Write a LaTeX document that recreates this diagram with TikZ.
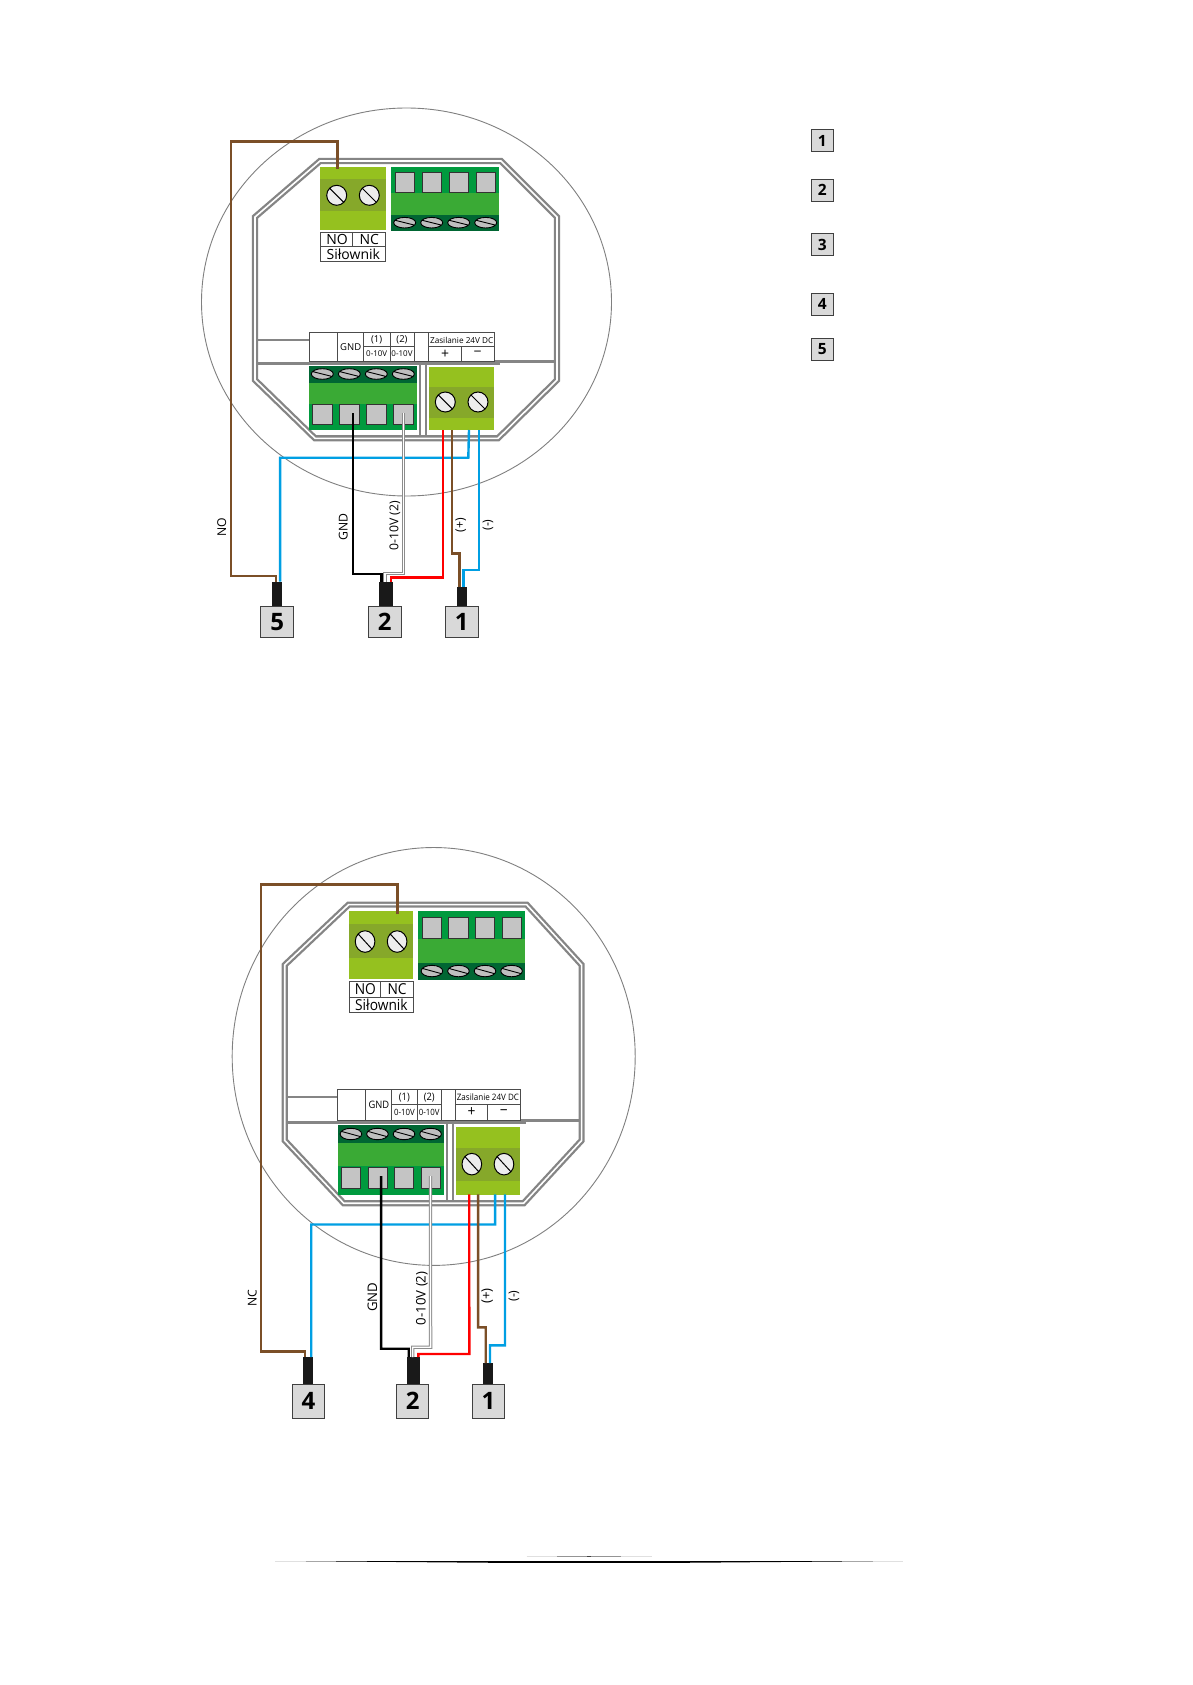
\documentclass[tikz,border=0pt]{standalone}
\usepackage{fontspec}
\setmainfont{Open Sans}
\definecolor{limeA}{HTML}{95C11F}
\definecolor{limeB}{HTML}{86A82A}
\definecolor{greenA}{HTML}{009A3E}
\definecolor{greenB}{HTML}{3AAA35}
\definecolor{greenC}{HTML}{006633}
\definecolor{wblue}{HTML}{009FE3}
\definecolor{wbrown}{HTML}{7B4F27}
\definecolor{wred}{HTML}{FF0000}
\tikzset{
  frame/.style={draw=black!48,line width=2.3,double=white,double distance=1.6,line join=miter},
  rib/.style={draw=black!48,line width=2.2},
  head/.style={draw=black,line width=1,fill=black!7},
  flat/.style={draw=black,line width=.9,fill=black!25},
  port/.style={draw=black!80,line width=1,fill=black!23},
  cell/.style={draw=black!70,line width=.8},
  tag/.style={inner sep=0,transform shape},
  wire/.style={line width=2.4},
  wwhite/.style={draw=black!45,line width=1,double=white,double distance=1.3},
  wiretext/.style={inner sep=0,rotate=90,font=\fontsize{12.2}{13}\selectfont},
  plug/.style={fill=black!90,inner sep=0,minimum width=#1},
  num/.style={draw=black!75,line width=1,fill=black!15,inner sep=0,minimum width=32.5,minimum height=31,
    font=\fontsize{24}{24}\selectfont\bfseries},
  keynum/.style={num,minimum width=22,minimum height=22,font=\fontsize{15.5}{16}\selectfont\bfseries},
  pics/board/.style={code={
    \draw[black!50,line width=.9] (406.5,302) circle[x radius=205,y radius=194];
    \draw[frame] (320,161) -- (501,161) -- (557,217) -- (557,380) -- (498,438.3)
      -- (315,438.3) -- (255,380) -- (255,217) -- cycle;
    \draw[rib] (257,340) -- (309,340);
    \draw[rib,line width=2.5] (257,363.4) -- (500,363.4);
    \draw[rib,line width=3] (495,361.5) -- (555,361.5);
    \draw[rib] (419.7,363.5) -- (419.7,437);
    \draw[rib] (426,363.5) -- (426,437);
    % relay block
    \fill[limeA] (320.3,167) rectangle (385.7,230);
    \fill[limeB] (320.3,179.3) rectangle (385.7,210.7);
    \foreach \x in {336.7,369.3}
      \draw[head] (\x,195.3) circle[radius=10] +(-7,-7) -- +(7,7);
    % upper four way block
    \fill[greenA] (391,167) rectangle (499.3,193.3);
    \fill[greenB] (391,193.3) rectangle (499.3,215);
    \fill[greenC] (391,215) rectangle (499.3,231);
    \foreach \x in {395,422,449,476}
      \draw[port] (\x,172.7) rectangle +(19.7,20);
    \foreach \x in {404.7,431.7,458.7,485.7}
      \draw[flat] (\x,222.7) circle[x radius=11,y radius=5.3] +(-10,-2.5) -- +(10,2.5);
    % lower four way block
    \fill[greenC] (309,366) rectangle (417,382.7);
    \fill[greenB] (309,382.7) rectangle (417,404);
    \fill[greenA] (309,404) rectangle (417,430.3);
    \foreach \x in {312.7,339.7,366.7,393.7}
      \draw[port] (\x,404.7) rectangle +(19.5,20);
    \foreach \x in {322.3,349.3,376.3,403.3}
      \draw[flat] (\x,374) circle[x radius=11,y radius=5.3] +(-10,-2.5) -- +(10,2.5);
    % supply block
    \fill[limeA] (428.7,367.3) rectangle (494,430.3);
    \fill[limeB] (428.7,386.7) rectangle (494,418);
    \foreach \x in {445.3,478}
      \draw[head] (\x,402) circle[radius=10] +(-7,-7) -- +(7,7);
    % label strips
    \draw[cell,fill=white] (320.3,232.3) rectangle (385.7,261.3);
    \draw[cell] (320.3,246.7) -- (385.7,246.7) (352.7,232.3) -- (352.7,246.7);
    \node[tag,font=\fontsize{14}{15}\selectfont] (-no) at (337,239.5) {NO};
    \node[tag,font=\fontsize{14}{15}\selectfont] (-nc) at (369.3,239.5) {NC};
    \node[tag,font=\fontsize{14}{15}\selectfont] (-act) at (353.3,253.8) {Siłownik};
    \draw[cell,line width=1,fill=white] (309,332.7) rectangle (494.3,361);
    \draw[cell,line width=1] (337,332.7) -- (337,361) (363.3,332.7) -- (363.3,361)
      (390,332.7) -- (390,361) (414.3,332.7) -- (414.3,361) (428.3,332.7) -- (428.3,361)
      (461.7,346.7) -- (461.7,361) (363.3,346.7) -- (414.3,346.7) (428.3,346.7) -- (494.3,346.7);
    \node[tag,font=\fontsize{9.5}{10}\selectfont] (-gndt) at (350.7,346.7) {GND};
    \node[tag,font=\fontsize{9.5}{10}\selectfont] (-ch1) at (376.7,340) {(1)};
    \node[tag,font=\fontsize{9.5}{10}\selectfont] (-ch2) at (402,340) {(2)};
    \node[tag,font=\fontsize{8}{8}\selectfont] (-vone) at (376.7,353.6) {0-10V};
    \node[tag,font=\fontsize{8}{8}\selectfont] (-vtwo) at (402,353.6) {0-10V};
    \node[tag,font=\fontsize{8.2}{9}\selectfont] (-pwr) at (461.7,340) {Zasilanie 24V DC};
    \node[tag,font=\fontsize{14}{14}\selectfont] (-pl) at (445,354) {+};
    \node[tag,font=\fontsize{14}{14}\selectfont] (-mi) at (477.7,354) {−};
    % wire ends
    \coordinate (-tno) at (337.3,169);
    \coordinate (-tnc) at (369.6,170);
    \coordinate (-tgnd) at (353,413);
    \coordinate (-tsig) at (403.3,413);
    \coordinate (-tred) at (442.7,430);
    \coordinate (-tbrn) at (451.7,430);
    \coordinate (-tbl) at (469,430);
    \coordinate (-tmin) at (479,430);
  }}
}
\begin{document}
\begin{tikzpicture}[x=1pt,y=-1pt]
  \useasboundingbox (0,0) rectangle (1192,1685);
  \fill[white] (0,0) rectangle (1192,1685);

  % key
  \foreach \n/\y in {1/141,2/190.2,3/244.7,4/304.3,5/349.3}
    \node[keynum] (key\n) at (822.3,\y) {\n};

  % upper drawing
  \pic (up) at (0,0) {board};
  \node[plug=10.3,minimum height=25] (upa) at (276.85,594.2) {};
  \node[plug=13.7,minimum height=25] (upb) at (385.85,594.2) {};
  \node[plug=10,minimum height=20] (upc) at (461.7,596.7) {};
  \node[num] (up5) at (277.2,622) {5};
  \node[num] (up2) at (384.8,622) {2};
  \node[num] (up1) at (461.8,622) {1};
  \draw[wire,wbrown] (up-tno) |- (230.7,141.7) -- (230.7,575.7) -| ([xshift=-.9pt]upa.north);
  \draw[wire,wblue] (up-tbl) -- (468.3,457.7) -| ([xshift=3.2pt]upa.north);
  \draw[wire,black] (up-tgnd) -- (353,574) -| ([xshift=-4.2pt]upb.north);
  \draw[wwhite] (up-tsig) -- (403.3,573.3) -| ([xshift=-.9pt]upb.north);
  \draw[wire,wred] (up-tred) -- (442.7,577.3) -| ([xshift=4.9pt]upb.north);
  \draw[wire,wbrown] (up-tbrn) -- (451.7,553.3) -| ([xshift=-2.4pt]upc.north);
  \draw[wire,wblue] (up-tmin) -- (479,570) -| ([xshift=1.6pt]upc.north);
  \node[wiretext] (upno) at (221.7,527.3) {NO};
  \node[wiretext] (upgnd) at (343.3,526.7) {GND};
  \node[wiretext] (upsig) at (395,526) {0-10V (2)};
  \node[wiretext] (upplus) at (460.7,525) {(+)};
  \node[wiretext] (upminus) at (488,525) {(-)};

  % lower drawing
  \pic[xscale=.983,yscale=1.077] (low) at (34.1,731.2) {board};
  \node[plug=10.3,minimum height=26.7] (lowa) at (308.15,1370.65) {};
  \node[plug=13.7,minimum height=26.7] (lowb) at (413.5,1370.65) {};
  \node[plug=10.3,minimum height=20.7] (lowc) at (487.85,1373.65) {};
  \node[num,minimum height=34.3] (low4) at (308.35,1401.2) {4};
  \node[num,minimum height=34.3] (low2) at (412.65,1401.2) {2};
  \node[num,minimum height=34.3] (low1) at (488.35,1401.2) {1};
  \draw[wire,wbrown] (low-tnc) |- (260.7,884.3) -- (260.7,1351.3) -| ([xshift=-2.9pt]lowa.north);
  \draw[wire,wblue] (low-tbl) -- (495.1,1224.5) -| ([xshift=3.1pt]lowa.north);
  \draw[wire,black] (low-tgnd) -- (381.1,1348.7) -| ([xshift=-4.8pt]lowb.north);
  \draw[wwhite] (low-tsig) -- (430.6,1347.3) -| ([xshift=-.8pt]lowb.north);
  \draw[wire,wred] (low-tred) -- (469.3,1354) -| ([xshift=4.8pt]lowb.north);
  \draw[wire,wbrown] (low-tbrn) -- (478.1,1327.3) -| ([xshift=-2.1pt]lowc.north);
  \draw[wire,wblue] (low-tmin) -- (505,1345.3) -| ([xshift=2.1pt]lowc.north);
  \node[wiretext] (lowno) at (252.3,1298.3) {NC};
  \node[wiretext,font=\fontsize{13.2}{14}\selectfont] (lowgnd) at (372.3,1297.3) {GND};
  \node[wiretext,font=\fontsize{13.2}{14}\selectfont] (lowsig) at (422,1298.3) {0-10V (2)};
  \node[wiretext,font=\fontsize{13.2}{14}\selectfont] (lowplus) at (487.3,1296) {(+)};
  \node[wiretext] (lowminus) at (514,1296) {(-)};

  % rule at the foot
  \foreach \a/\b/\c in {396.3/426.5/12,426.5/456.8/35,456.8/487.5/65,487.5/690/100,690/720.5/65,720.5/750/35,750/780.7/12}
    \draw[line width=1.6,black!\c] (\a,1562.4) -- (\b,1562.4);
  \foreach \a/\b/\c in {275/305.5/12,305.5/336/35,336/366.5/70,366.5/811.7/100,811.7/842/70,842/872.7/35,872.7/902.7/12}
    \draw[line width=1.2,black!\c] (\a,1561.3) -- (\b,1561.3);
  \foreach \a/\b/\c in {526.7/557/12,557/587/42,587/591/75,591/621/42,621/651.7/12}
    \draw[line width=1,black!\c] (\a,1556.3) -- (\b,1556.3);
\end{tikzpicture}
\end{document}
